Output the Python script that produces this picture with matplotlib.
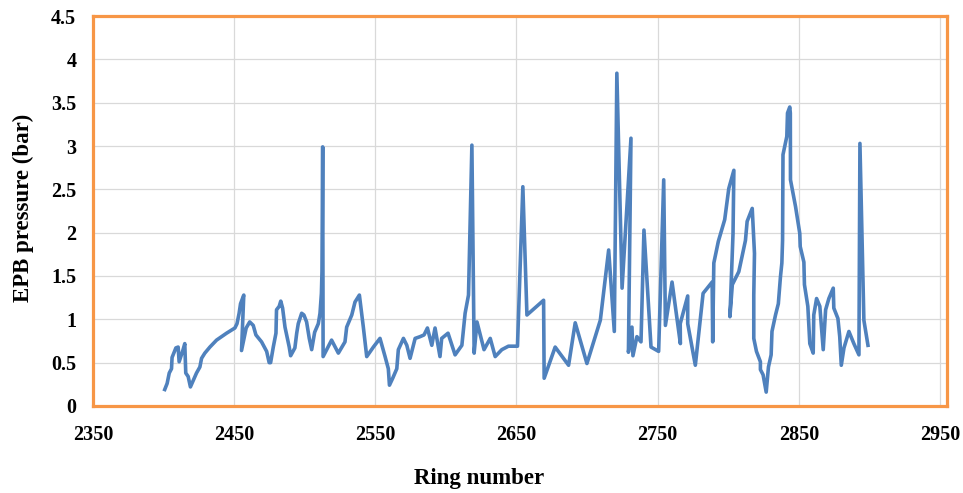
import matplotlib
matplotlib.use("Agg")
import matplotlib.pyplot as plt

# ring number / EPB pressure (bar)
ring = [2400.8, 2402.5, 2404.0, 2405.6, 2406.0, 2408.7, 2410.3, 2411.0, 2413.8, 2415.0,
        2415.7, 2417.4, 2419.0, 2423.3, 2425.7, 2426.9, 2429.2, 2432.8, 2437.5, 2444.6,
        2450.5, 2452.0, 2453.5, 2454.5, 2456.8, 2455.2, 2458.5, 2461.0, 2463.5, 2465.4,
        2469.4, 2473.0, 2474.8, 2475.8, 2477.7, 2479.6, 2480.0, 2481.9, 2483.0, 2484.3,
        2486.0, 2489.0, 2490.0, 2493.0, 2494.3, 2495.4, 2497.8, 2499.4, 2501.3, 2503.2,
        2504.9, 2507.0, 2509.6, 2510.8, 2511.8, 2512.2, 2512.7, 2513.0, 2515.5, 2519.0,
        2523.8, 2528.5, 2529.7, 2533.3, 2535.6, 2538.7, 2541.5, 2543.9, 2548.6, 2553.3,
        2556.9, 2559.2, 2560.0, 2562.3, 2565.2, 2566.3, 2569.9, 2572.3, 2574.6, 2578.2,
        2581.7, 2584.5, 2586.9, 2590.0, 2592.3, 2594.0, 2595.8, 2597.0, 2601.5, 2606.5,
        2611.3, 2613.6, 2616.0, 2618.4, 2620.0, 2622.0, 2627.0, 2631.4, 2634.9, 2639.6,
        2644.3, 2650.7, 2654.5, 2657.4, 2669.2, 2669.6, 2677.4, 2686.9, 2691.6, 2699.9,
        2709.4, 2715.3, 2719.3, 2721.1, 2724.8, 2731.1, 2729.3, 2731.8, 2732.5, 2735.3,
        2738.2, 2740.3, 2745.3, 2750.7, 2754.3, 2755.5, 2760.2, 2766.1, 2766.0, 2771.3,
        2771.3, 2776.7, 2782.2, 2788.6, 2789.0, 2789.8, 2793.0, 2797.5, 2800.4, 2804.0,
        2803.4, 2801.2, 2802.9, 2807.5, 2812.2, 2813.4, 2817.0, 2818.6, 2818.1, 2818.1,
        2820.0, 2822.8, 2822.8, 2824.7, 2826.9, 2828.5, 2830.4, 2831.0, 2833.5, 2835.5,
        2837.0, 2838.0, 2838.5, 2838.8, 2841.5, 2842.0, 2843.6, 2844.0, 2844.1, 2847.7,
        2850.7, 2851.0, 2853.6, 2854.0, 2856.4, 2857.8, 2860.2, 2860.6, 2862.6, 2864.9,
        2867.3, 2869.0, 2871.3, 2874.4, 2874.8, 2877.7, 2879.0, 2880.1, 2882.0, 2885.5,
        2889.0, 2892.6, 2893.3, 2896.1, 2899.0]
pressure = [0.19, 0.26, 0.38, 0.43, 0.56, 0.67, 0.68, 0.51, 0.65, 0.72,
            0.38, 0.34, 0.22, 0.38, 0.45, 0.55, 0.61, 0.68, 0.76, 0.84,
            0.90, 0.95, 1.07, 1.18, 1.28, 0.64, 0.90, 0.97, 0.93, 0.82,
            0.74, 0.63, 0.50, 0.50, 0.68, 0.84, 1.11, 1.15, 1.21, 1.13,
            0.91, 0.68, 0.58, 0.67, 0.84, 0.95, 1.07, 1.05, 0.97, 0.78,
            0.65, 0.85, 0.95, 1.07, 1.30, 1.55, 2.99, 0.57, 0.65, 0.76,
            0.61, 0.74, 0.91, 1.05, 1.20, 1.28, 0.91, 0.57, 0.68, 0.78,
            0.57, 0.43, 0.24, 0.32, 0.43, 0.65, 0.78, 0.70, 0.55, 0.78,
            0.80, 0.82, 0.90, 0.70, 0.90, 0.74, 0.57, 0.78, 0.84, 0.59,
            0.70, 1.07, 1.28, 3.01, 0.61, 0.97, 0.65, 0.78, 0.57, 0.65,
            0.69, 0.69, 2.53, 1.05, 1.22, 0.32, 0.68, 0.47, 0.96, 0.49,
            0.99, 1.80, 0.86, 3.84, 1.36, 3.09, 0.62, 0.91, 0.58, 0.80,
            0.74, 2.03, 0.68, 0.63, 2.61, 0.93, 1.43, 0.72, 0.95, 1.27,
            0.95, 0.47, 1.30, 1.43, 0.74, 1.65, 1.90, 2.15, 2.51, 2.72,
            1.99, 1.03, 1.40, 1.55, 1.91, 2.13, 2.28, 1.76, 1.28, 0.78,
            0.63, 0.51, 0.42, 0.36, 0.16, 0.45, 0.59, 0.86, 1.05, 1.18,
            1.49, 1.65, 1.91, 2.90, 3.11, 3.38, 3.45, 3.38, 2.61, 2.30,
            1.99, 1.84, 1.66, 1.40, 1.15, 0.72, 0.61, 1.05, 1.24, 1.15,
            0.65, 1.11, 1.24, 1.36, 1.13, 1.01, 0.80, 0.47, 0.67, 0.86,
            0.72, 0.59, 3.03, 0.99, 0.70]

x_ticks = [2350, 2450, 2550, 2650, 2750, 2850, 2950]
y_ticks = [0, 0.5, 1, 1.5, 2, 2.5, 3, 3.5, 4, 4.5]
y_ticklabels = ["0", "0.5", "1", "1.5", "2", "2.5", "3", "3.5", "4", "4.5"]

plt.rcParams['font.family'] = ['Liberation Serif', 'DejaVu Serif']
plt.rcParams['font.weight'] = 'bold'

fig = plt.figure(figsize=(9.63, 4.93), dpi=100)
ax = fig.add_axes([0.0966, 0.1765, 0.8868, 0.791])

ax.plot(ring, pressure, color='#4F81BD', lw=2.6, solid_joinstyle='round', zorder=3)

ax.set_xlim(2350, 2955)
ax.set_ylim(0, 4.5)
ax.set_xticks(x_ticks)
ax.set_yticks(y_ticks)
ax.set_yticklabels(y_ticklabels)
ax.tick_params(length=0, labelsize=14.5)
ax.tick_params(axis='x', pad=14)
ax.tick_params(axis='y', pad=12)
for lab in ax.get_xticklabels() + ax.get_yticklabels():
    lab.set_fontweight('bold')

ax.grid(True, color='#D9D9D9', lw=0.9)
ax.set_axisbelow(True)
for s in ax.spines.values():
    s.set_color('#F79646')
    s.set_linewidth(2.3)

fig.text(0.497, 0.03, "Ring number", ha='center', va='center', fontsize=16.5, fontweight='bold')
fig.text(0.024, 0.578, "EPB pressure (bar)", ha='center', va='center', rotation=90,
         fontsize=16.5, fontweight='bold')

fig.savefig("out.png", dpi=100)
